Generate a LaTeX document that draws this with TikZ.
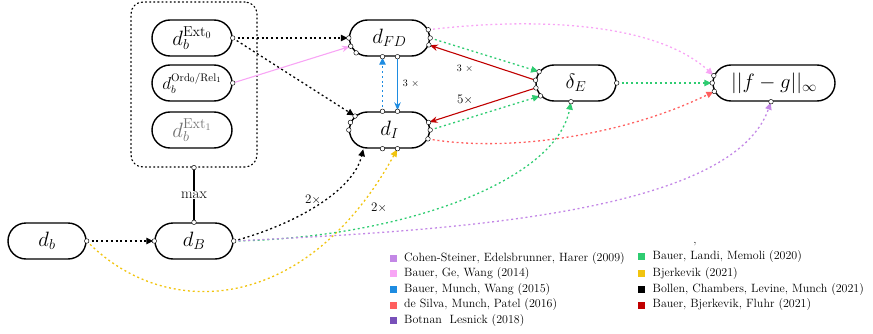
\documentclass[tikz,border=0pt]{standalone}
\usetikzlibrary{shapes.misc,arrows.meta,calc}
\definecolor{cCS}{RGB}{195,135,230}
\definecolor{cP}{RGB}{248,165,245}
\definecolor{cB}{RGB}{30,140,225}
\definecolor{cS}{RGB}{255,95,95}
\definecolor{cBL}{RGB}{120,80,185}
\definecolor{cG}{RGB}{46,204,113}
\definecolor{cY}{RGB}{241,196,15}
\definecolor{cR}{RGB}{192,0,0}
\begin{document}
\begin{tikzpicture}[x=1pt,y=1pt,
  dnode/.style={rounded rectangle, draw, line width=1.4pt, minimum width=80pt, minimum height=36pt, inner sep=0pt, font=\fontsize{20.7}{24}\selectfont},
  pdot/.style={circle, draw, fill=white, line width=0.45pt, inner sep=0pt, minimum size=4.6pt},
  dots/.style={line width=1.3pt, dash pattern=on 2pt off 2.8pt},
  tip/.style={-{Triangle[length=7pt,width=6.5pt]}, shorten >=1pt},
  stip/.style={-{Stealth[length=8pt,width=6.5pt]}, shorten >=1pt},
  solidedge/.style={line width=1.1pt},
  lab/.style={font=\fontsize{13}{15}\selectfont, inner sep=1pt},
  slab/.style={font=\fontsize{10}{12}\selectfont, inner sep=1pt},
  legsq/.style={minimum size=7pt, inner sep=0pt},
  legtxt/.style={anchor=west, inner sep=0pt, font=\fontsize{12}{14}\selectfont}
]
\useasboundingbox (0,0) rectangle (873,333);

% group box
\node[draw, line width=1.2pt, dash pattern=on 1.1pt off 3pt, line cap=round, rounded corners=12pt,
      minimum width=126pt, minimum height=165pt, inner sep=0pt] (box) at (194,248.5) {};

% main nodes
\node[dnode, minimum width=78pt] (db) at (47,92) {$d_b$};
\node[dnode, minimum width=78pt] (dB) at (194,92) {$d_B$};
\node[dnode] (e0) at (192,295) {$d_b^{\mathrm{Ext}_0}$};
\node[dnode, font=\fontsize{16}{19}\selectfont] (ord) at (192,250) {$d_b^{\mathrm{Ord}_0/\mathrm{Rel}_1}$};
\node[dnode, text=black!55] (e1) at (192,203) {$d_b^{\mathrm{Ext}_1}$};
\node[dnode] (dFD) at (389.5,295) {$d_{FD}$};
\node[dnode] (dI) at (389.5,203) {$d_I$};
\node[dnode] (dE) at (576,250) {$\delta_E$};
\node[dnode, minimum width=122pt] (fg) at (774,250) {$||f-g||_\infty$};

% max connector
\draw[line width=1.5pt] (box.south) -- (dB.north)
  node[midway, fill=white, inner sep=1pt, font=\fontsize{15}{18}\selectfont] (maxlab) {max};

% edges
\draw[dots, tip] (db.east) -- (dB.west);
\draw[dots, tip, cY] (db.east) .. controls +(80,-82) and +(-90,-164) .. ([xshift=8pt]dI.south);
\draw[dots, tip] (dB.east) .. controls +(60,16) and +(-10,-43) .. (dI.215);
\draw[dots, tip, cG] (dB.east) .. controls +(167,3) and +(-15,-80) .. ([xshift=-5pt]dE.south);
\draw[dots, tip, cCS] (dB.east) .. controls +(200,10) and +(-40,-115) .. ([xshift=-3pt]fg.south);

\draw[dots, tip] (e0.east) -- (dFD.west);
\draw[dots, tip] (e0.east) -- (dI.158);
\draw[solidedge, cP, stip] (ord.east) -- (dFD.192);

\draw[dots, tip, cB] ([xshift=-7pt]dI.north) -- ([xshift=-7pt]dFD.south);
\draw[solidedge, cB, stip] ([xshift=8pt]dFD.south) -- ([xshift=8pt]dI.north);

\draw[solidedge, cR, stip] (dE.176) -- (dFD.350);
\draw[solidedge, cR, stip] (dE.187) -- (dI.11);

\draw[dots, tip, cG] (dFD.east) -- (dE.163);
\draw[dots, tip, cG] (dI.east) -- (dE.200);
\draw[dots, tip, cG] (dE.east) -- (fg.west);

\draw[dots, tip, cP] (dFD.12) .. controls +(100,12) and +(-60,55) .. (fg.173);
\draw[dots, tip, cS] (dI.347) .. controls +(80,-14) and +(-90,-44) .. (fg.188);

% edge labels
\node[lab] (l1) at (313,133) {2$\times$};
\node[lab] (l2) at (379,125) {2$\times$};
\node[slab] (l3) at (411,249) {3 $\times$};
\node[slab] (l4) at (465,264) {3 $\times$};
\node[lab] (l5) at (465,233) {5$\times$};

% anchor dots
\node[pdot] (p1) at (db.east) {};
\node[pdot] (p2) at (dB.west) {};
\node[pdot] (p3) at (dB.east) {};
\node[pdot] (p4) at (dB.north) {};
\node[pdot] (p5) at (box.south) {};
\node[pdot] (p6) at (e0.east) {};
\node[pdot] (p7) at (ord.east) {};
\node[pdot] (p8) at (dFD.west) {};
\node[pdot] (p9) at (dFD.192) {};
\node[pdot] (p10) at (dFD.204) {};
\node[pdot] (p11) at ([xshift=-7pt]dFD.south) {};
\node[pdot] (p12) at ([xshift=8pt]dFD.south) {};
\node[pdot] (p13) at (dFD.12) {};
\node[pdot] (p14) at (dFD.east) {};
\node[pdot] (p15) at (dFD.350) {};
\node[pdot] (p16) at (dI.158) {};
\node[pdot] (p17) at (dI.169) {};
\node[pdot] (p18) at (dI.west) {};
\node[pdot] (p19) at ([xshift=-7pt]dI.north) {};
\node[pdot] (p20) at ([xshift=8pt]dI.north) {};
\node[pdot] (p21) at ([xshift=-7pt]dI.south) {};
\node[pdot] (p22) at ([xshift=8pt]dI.south) {};
\node[pdot] (p23) at (dI.11) {};
\node[pdot] (p24) at (dI.east) {};
\node[pdot] (p25) at (dI.347) {};
\node[pdot] (p26) at (dE.163) {};
\node[pdot] (p27) at (dE.176) {};
\node[pdot] (p28) at (dE.187) {};
\node[pdot] (p29) at (dE.200) {};
\node[pdot] (p30) at ([xshift=-5pt]dE.south) {};
\node[pdot] (p31) at (dE.east) {};
\node[pdot] (p32) at (fg.173) {};
\node[pdot] (p33) at (fg.west) {};
\node[pdot] (p34) at (fg.188) {};
\node[pdot] (p35) at ([xshift=-3pt]fg.south) {};

% legend
\node[font=\fontsize{12}{14}\selectfont, inner sep=0pt] (comma) at (695,89) {,};
\node[legsq, fill=cCS] (s1) at (393,74.5) {};
\node[legtxt] (t1) at (404,74.5) {Cohen-Steiner, Edelsbrunner, Harer (2009)};
\node[legsq, fill=cP] (s2) at (393,59.5) {};
\node[legtxt] (t2) at (404,59.5) {Bauer, Ge, Wang (2014)};
\node[legsq, fill=cB] (s3) at (393,43.7) {};
\node[legtxt] (t3) at (404,43.7) {Bauer, Munch, Wang (2015)};
\node[legsq, fill=cS] (s4) at (393,28) {};
\node[legtxt] (t4) at (404,28) {de Silva, Munch, Patel (2016)};
\node[legsq, fill=cBL] (s5) at (393,12.3) {};
\node[legtxt] (t5) at (404,12.3) {Botnan\ \ Lesnick (2018)};
\node[legsq, fill=cG] (s6) at (641,76.8) {};
\node[legtxt] (t6) at (652.5,76.8) {Bauer, Landi, Memoli (2020)};
\node[legsq, fill=cY] (s7) at (641,59.3) {};
\node[legtxt] (t7) at (652.5,59.3) {Bjerkevik (2021)};
\node[legsq, fill=black] (s8) at (641,43.7) {};
\node[legtxt] (t8) at (652.5,43.7) {Bollen, Chambers, Levine, Munch (2021)};
\node[legsq, fill=cR] (s9) at (641,28) {};
\node[legtxt] (t9) at (652.5,28) {Bauer, Bjerkevik, Fluhr (2021)};
\end{tikzpicture}
\end{document}
